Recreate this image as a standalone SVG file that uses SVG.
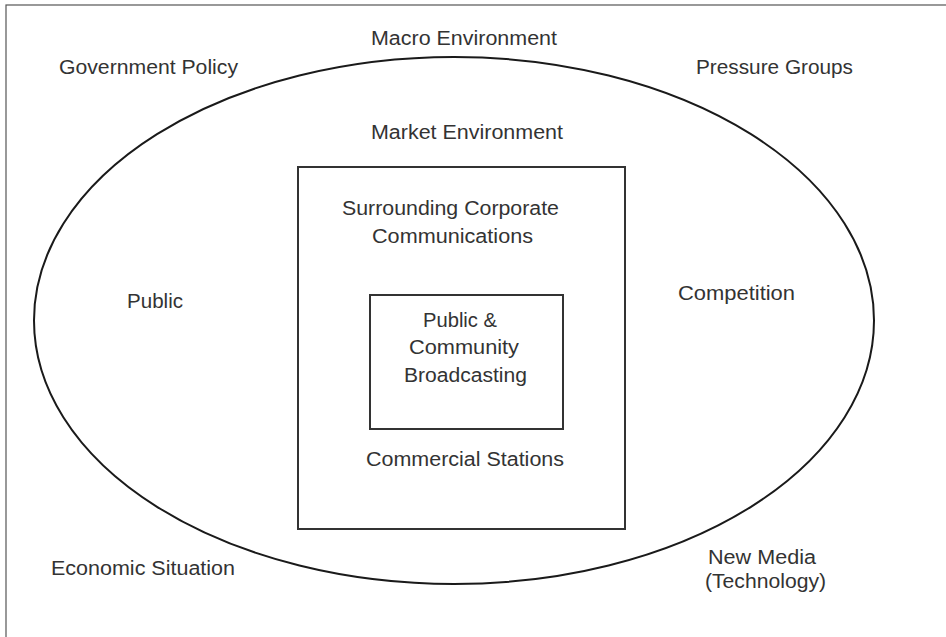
<svg xmlns="http://www.w3.org/2000/svg" width="946" height="637" viewBox="0 0 946 637">
  <style>
    .lbl { font-family: "Liberation Sans", Arial, sans-serif; font-size: 20px; fill: #333333; }
    .shape { fill: none; stroke: #1a1a1a; stroke-width: 2; }
    .box { fill: none; stroke: #333333; stroke-width: 2; }
  </style>
  <rect x="0" y="0" width="946" height="637" fill="#ffffff"/>
  <rect id="frame" x="6" y="5" width="1000" height="1000" fill="none" stroke="#555555" stroke-width="1.2"/>

  <g id="macro-environment">
    <ellipse class="shape" cx="454" cy="320.5" rx="420" ry="263.5"/>
    <text class="lbl" x="371" y="45" textLength="186" lengthAdjust="spacingAndGlyphs">Macro Environment</text>
  </g>

  <g id="government-policy">
    <text class="lbl" x="59" y="74" textLength="179" lengthAdjust="spacingAndGlyphs">Government Policy</text>
  </g>
  <g id="pressure-groups">
    <text class="lbl" x="696" y="74" textLength="157" lengthAdjust="spacingAndGlyphs">Pressure Groups</text>
  </g>
  <g id="public">
    <text class="lbl" x="127" y="308" textLength="56" lengthAdjust="spacingAndGlyphs">Public</text>
  </g>
  <g id="competition">
    <text class="lbl" x="678" y="300" textLength="117" lengthAdjust="spacingAndGlyphs">Competition</text>
  </g>
  <g id="economic-situation">
    <text class="lbl" x="51" y="575" textLength="184" lengthAdjust="spacingAndGlyphs">Economic Situation</text>
  </g>
  <g id="new-media">
    <text class="lbl" x="708" y="564" textLength="108" lengthAdjust="spacingAndGlyphs">New Media</text>
    <text class="lbl" x="705" y="588" textLength="121" lengthAdjust="spacingAndGlyphs">(Technology)</text>
  </g>

  <g id="market-environment">
    <text class="lbl" x="371" y="139" textLength="192" lengthAdjust="spacingAndGlyphs">Market Environment</text>
  </g>

  <g id="surrounding-corporate-communications">
    <rect class="box" x="298" y="167" width="327" height="362"/>
    <text class="lbl" x="342" y="215" textLength="217" lengthAdjust="spacingAndGlyphs">Surrounding Corporate</text>
    <text class="lbl" x="372" y="243" textLength="161" lengthAdjust="spacingAndGlyphs">Communications</text>
    <text class="lbl" x="366" y="466" textLength="198" lengthAdjust="spacingAndGlyphs">Commercial Stations</text>
  </g>

  <g id="public-community-broadcasting">
    <rect class="box" x="370" y="295" width="193" height="134"/>
    <text class="lbl" x="423" y="327" textLength="74" lengthAdjust="spacingAndGlyphs">Public &amp;</text>
    <text class="lbl" x="409" y="354" textLength="110" lengthAdjust="spacingAndGlyphs">Community</text>
    <text class="lbl" x="404" y="382" textLength="123" lengthAdjust="spacingAndGlyphs">Broadcasting</text>
  </g>

  <g id="connectors"/>
</svg>
